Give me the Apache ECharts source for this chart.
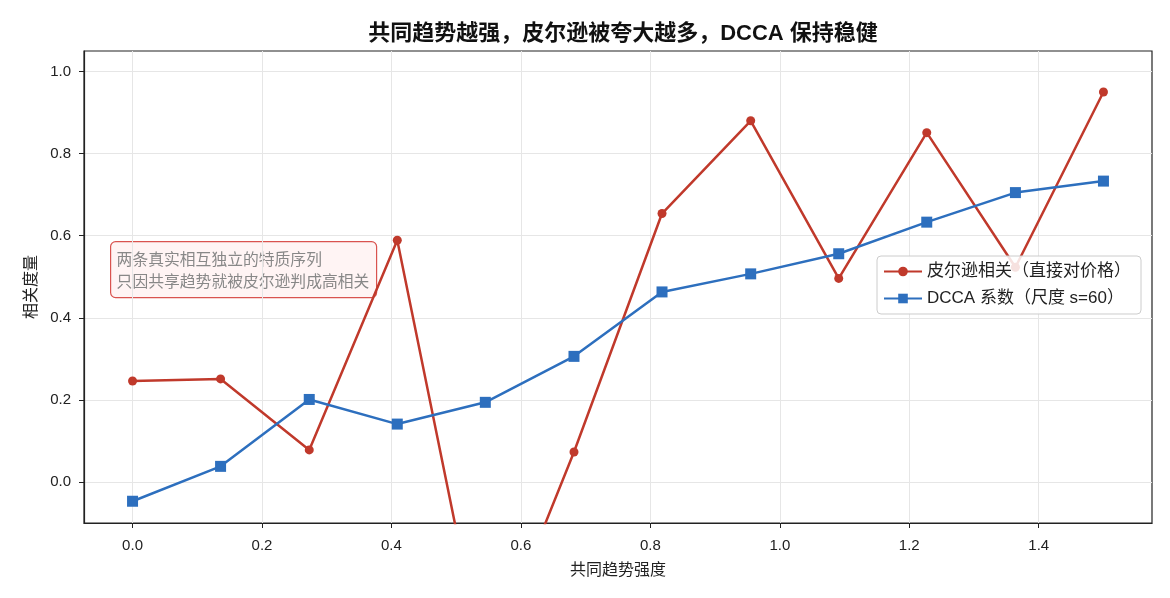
<!DOCTYPE html>
<html>
<head>
<meta charset="utf-8">
<script src="https://cdn.jsdelivr.net/npm/echarts@6/dist/echarts.min.js"></script>
<style>
  html, body { margin: 0; padding: 0; background: #fff; }
  #chart { width: 1170px; height: 598px; }
</style>
</head>
<body>
<div id="chart"></div>
<script>
  // 共同趋势强度
  var trendStrength = [0, 0.136, 0.273, 0.409, 0.545, 0.682, 0.818, 0.955, 1.091, 1.227, 1.364, 1.5];
  // 皮尔逊相关（直接对价格）
  var pearsonValues = [0.246, 0.251, 0.078, 0.589, -0.465, 0.073, 0.654, 0.880, 0.496, 0.851, 0.523, 0.950];
  // DCCA 系数（尺度 s=60）
  var dccaValues = [-0.047, 0.038, 0.201, 0.141, 0.194, 0.306, 0.463, 0.507, 0.556, 0.633, 0.705, 0.733];
  var xTicks = [0, 0.2, 0.4, 0.6, 0.8, 1.0, 1.2, 1.4];
  var yTicks = [0, 0.2, 0.4, 0.6, 0.8, 1.0];

  var FONT = '"Liberation Sans", "Noto Sans CJK SC", sans-serif';

  function pairs(xs, ys) {
    var out = [];
    for (var i = 0; i < xs.length; i++) {
      out.push([xs[i], ys[i]]);
    }
    return out;
  }

  var chart = echarts.init(document.getElementById('chart'));
  var option = {
    animation: false,
    textStyle: { fontFamily: FONT },
    title: {
      text: '共同趋势越强，皮尔逊被夸大越多，DCCA 保持稳健',
      left: 618,
      textAlign: 'center',
      top: 18,
      textStyle: { fontSize: 22, fontWeight: 'bold', color: '#111', fontFamily: FONT }
    },
    grid: {
      left: 84,
      right: 18,
      top: 51,
      bottom: 75,
      show: true,
      borderColor: '#222',
      borderWidth: 1.2
    },
    legend: {
      right: 29,
      top: 256,
      orient: 'vertical',
      backgroundColor: 'rgba(255,255,255,0.85)',
      borderColor: '#cccccc',
      borderWidth: 1,
      borderRadius: 4,
      padding: [7, 10, 7, 6],
      itemGap: 10,
      itemWidth: 38,
      itemHeight: 12,
      textStyle: { fontSize: 17, color: '#222', fontFamily: FONT },
      data: ['皮尔逊相关（直接对价格）', 'DCCA 系数（尺度 s=60）']
    },
    xAxis: {
      type: 'value',
      min: -0.075,
      max: 1.575,
      name: '共同趋势强度',
      nameLocation: 'middle',
      nameGap: 40,
      nameTextStyle: { fontSize: 16, color: '#222', fontFamily: FONT },
      axisLine: { show: true, onZero: false, lineStyle: { color: '#222', width: 1.2 } },
      axisTick: { show: true, length: 5, customValues: xTicks, lineStyle: { color: '#222' } },
      axisLabel: {
        customValues: xTicks,
        fontSize: 15,
        color: '#222',
        margin: 15,
        formatter: function (v) { return v.toFixed(1); }
      },
      splitLine: { show: true, lineStyle: { color: '#e6e6e6', width: 1 } }
    },
    yAxis: {
      type: 'value',
      min: -0.1,
      max: 1.05,
      name: '相关度量',
      nameLocation: 'middle',
      nameGap: 43,
      nameTextStyle: { fontSize: 16, color: '#222', fontFamily: FONT },
      axisLine: { show: true, onZero: false, lineStyle: { color: '#222', width: 1.2 } },
      axisTick: { show: true, length: 5, customValues: yTicks, lineStyle: { color: '#222' } },
      axisLabel: {
        customValues: yTicks,
        fontSize: 15,
        color: '#222',
        margin: 13,
        formatter: function (v) { return v.toFixed(1); }
      },
      splitLine: { show: true, lineStyle: { color: '#e6e6e6', width: 1 } }
    },
    graphic: [
      {
        type: 'group',
        left: 110,
        top: 241,
        z: 10,
        children: [
          {
            type: 'rect',
            shape: { x: 0, y: 0, width: 266, height: 56, r: 5 },
            style: { fill: 'rgba(255,242,242,0.85)', stroke: '#d9534f', lineWidth: 1.2 }
          },
          {
            type: 'text',
            x: 6,
            y: 6,
            style: {
              text: '两条真实相互独立的特质序列\n只因共享趋势就被皮尔逊判成高相关',
              fill: '#888888',
              font: '15.8px "Noto Sans CJK SC", sans-serif',
              lineHeight: 22
            }
          }
        ]
      }
    ],
    series: [
      {
        name: '皮尔逊相关（直接对价格）',
        type: 'line',
        data: pairs(trendStrength, pearsonValues),
        symbol: 'circle',
        symbolSize: 9,
        clip: true,
        lineStyle: { color: '#c0392b', width: 2.5 },
        itemStyle: { color: '#c0392b' },
        z: 3
      },
      {
        name: 'DCCA 系数（尺度 s=60）',
        type: 'line',
        data: pairs(trendStrength, dccaValues),
        symbol: 'rect',
        symbolSize: 11,
        clip: true,
        lineStyle: { color: '#2d6fbe', width: 2.5 },
        itemStyle: { color: '#2d6fbe' },
        z: 3
      }
    ]
  };
  chart.setOption(option);
</script>
</body>
</html>
